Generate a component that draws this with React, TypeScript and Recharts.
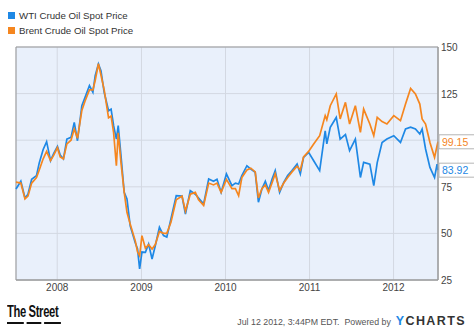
import React from "react";
import {
  LineChart,
  Line,
  XAxis,
  YAxis,
  CartesianGrid,
  ReferenceArea,
} from "recharts";

const dates = [
  "2007-07-06", "2007-07-27", "2007-08-14", "2007-08-27", "2007-09-12", "2007-10-03", "2007-10-15", "2007-11-01", "2007-11-16", "2007-12-03",
  "2007-12-17", "2008-01-02", "2008-01-14", "2008-01-28", "2008-02-12", "2008-03-01", "2008-03-15", "2008-03-29", "2008-04-17", "2008-05-01",
  "2008-05-20", "2008-06-04", "2008-06-14", "2008-06-28", "2008-07-09", "2008-07-23", "2008-08-11", "2008-08-22", "2008-09-02", "2008-09-14",
  "2008-09-22", "2008-10-04", "2008-10-18", "2008-10-30", "2008-11-13", "2008-12-05", "2008-12-15", "2008-12-24", "2009-01-03", "2009-01-18",
  "2009-02-01", "2009-02-16", "2009-03-02", "2009-03-20", "2009-04-07", "2009-04-21", "2009-05-09", "2009-06-01", "2009-06-26", "2009-07-11",
  "2009-08-01", "2009-08-23", "2009-09-06", "2009-09-28", "2009-10-20", "2009-11-10", "2009-11-25", "2009-12-13", "2010-01-05", "2010-01-29",
  "2010-02-13", "2010-02-27", "2010-03-13", "2010-04-04", "2010-04-21", "2010-05-10", "2010-05-24", "2010-06-08", "2010-06-23", "2010-07-07",
  "2010-07-22", "2010-08-05", "2010-08-24", "2010-09-11", "2010-09-28", "2010-10-17", "2010-11-08", "2010-11-22", "2010-12-06", "2010-12-28",
  "2011-01-19", "2011-02-14", "2011-03-10", "2011-03-17", "2011-04-01", "2011-04-27", "2011-05-14", "2011-06-06", "2011-06-24", "2011-07-19",
  "2011-08-10", "2011-08-24", "2011-09-20", "2011-10-07", "2011-10-22", "2011-11-12", "2011-12-03", "2012-01-02", "2012-01-31", "2012-02-22",
  "2012-03-15", "2012-04-05", "2012-04-24", "2012-05-04", "2012-05-19", "2012-06-07", "2012-06-27", "2012-07-08", "2012-07-12",
];

const wti = [
  73.8, 78, 69, 71, 79, 81, 87.8, 95, 99.2, 89,
  93, 96.7, 92, 90, 100.6, 101.5, 109.6, 99.7, 118.5, 123,
  129.3, 125.7, 134.6, 140.9, 137.3, 125.7, 115.8, 116.7, 107.8, 100.6,
  107.8, 91.7, 72, 68.5, 54, 45, 41.6, 30.9, 40, 39.8,
  44.3, 36.3, 43.4, 53.3, 48.8, 48, 57.7, 70.2, 70, 60.4,
  72.9, 71, 69, 65.8, 79.2, 78, 79, 72, 81.9, 75.6,
  77, 76.5, 81, 86.3, 84.5, 82.8, 66.7, 73.8, 78, 73,
  79, 83.7, 72, 77.4, 81, 83.7, 87.2, 81.9, 90.8, 93.5,
  89, 83.7, 105, 98, 106.9, 112.2, 100.6, 103, 94.4, 100.6,
  80, 88.1, 87.2, 75.6, 88, 98.8, 100.6, 102.4, 98.8, 106,
  107, 106, 103.3, 106, 95.3, 85.4, 80, 87.2, 83.92,
];

const brent = [
  77.5, 77, 68.5, 70, 77, 80, 84, 90, 94, 89,
  92, 96, 91, 90, 98, 100, 106, 101, 116, 121,
  127, 127, 132, 141, 135, 127, 112, 113, 104, 86.3,
  104, 88, 72, 61.3, 55, 46, 40, 38, 48.8, 42,
  44, 41.6, 44, 51, 50, 50, 56, 68, 70, 62,
  71, 72, 68, 65, 77, 76, 77, 72, 79, 74,
  74, 70.2, 80, 84, 85, 83, 69, 74, 76, 72,
  77, 82, 73, 77, 80, 83, 86, 84, 91, 94,
  98, 102.4, 113.2, 111, 118.5, 124.8, 111.4, 120.3, 108.7, 118.5,
  104.2, 116.7, 108.7, 102.4, 112.2, 110, 108.7, 113.2, 110.5, 119.4,
  127.8, 124.8, 119.4, 111.4, 108.7, 98.8, 90.8, 97, 99.15,
];

const yearTicks = ["2008-01-01", "2009-01-01", "2010-01-01", "2011-01-01", "2012-01-01"];
const priceTicks = [25, 50, 75, 100, 125, 150];
// 100 sits under the Brent end label in the original, so its text is not shown
const hiddenPriceLabels = [100];

const WTI_COLOR = "#1e88e5";
const BRENT_COLOR = "#f5861f";
const FONT = "'Liberation Sans', Arial, sans-serif";

const toTime = (d: string) => Date.parse(d + "T00:00:00Z");

const data = dates.map((d, i) => ({
  time: toTime(d),
  wti: wti[i],
  brent: brent[i],
}));

const xStart = data[0].time;
const xEnd = data[data.length - 1].time;

function endLabel(color: string) {
  return (props: any) => {
    const { x, y, index, value } = props;
    if (index !== data.length - 1) return null;
    return (
      <g>
        <rect
          x={x + 1}
          y={y - 7}
          width={40}
          height={14}
          fill="#fff"
          stroke="#b5b5b5"
          strokeWidth={1}
        />
        <text x={x + 4} y={y + 4} fill={color} fontSize={10.5} fontFamily={FONT}>
          {Number(value).toFixed(2)}
        </text>
      </g>
    );
  };
}

function PriceTick(props: any) {
  const { x, y, payload } = props;
  if (hiddenPriceLabels.includes(payload.value)) return null;
  return (
    <text x={x} y={y + 4} fill="#444" fontSize={10} fontFamily={FONT}>
      {payload.value}
    </text>
  );
}

function LegendItem({ color, label, top }: { color: string; label: string; top: number }) {
  return (
    <div
      style={{
        position: "absolute",
        left: 8,
        top,
        display: "flex",
        alignItems: "center",
        fontSize: 9.7,
        color: "#333",
        fontFamily: FONT,
      }}
    >
      <span style={{ width: 7, height: 7, background: color, marginRight: 4 }} />
      {label}
    </div>
  );
}

export default function App() {
  return (
    <div
      style={{
        position: "absolute",
        left: 0,
        top: 0,
        width: 474,
        height: 333,
        background: "#fff",
        overflow: "hidden",
      }}
    >
      <LegendItem color={WTI_COLOR} label="WTI Crude Oil Spot Price" top={10} />
      <LegendItem color={BRENT_COLOR} label="Brent Crude Oil Spot Price" top={25} />

      <LineChart
        width={474}
        height={333}
        data={data}
        margin={{ top: 47, right: 0, bottom: 0, left: 16 }}
      >
        <CartesianGrid fill="#e9f0fb" stroke="#d3d8e2" strokeWidth={1} />
        <XAxis
          dataKey="time"
          type="number"
          scale="time"
          domain={[xStart, xEnd]}
          ticks={yearTicks.map(toTime)}
          tickFormatter={(t) => String(new Date(t).getUTCFullYear())}
          height={53}
          tickLine={false}
          tickSize={0}
          tickMargin={4}
          axisLine={{ stroke: "#9a9a9a" }}
          tick={{ fontSize: 10, fill: "#444", fontFamily: FONT }}
        />
        <YAxis
          orientation="right"
          width={36}
          domain={[25, 150]}
          ticks={priceTicks}
          tickLine={false}
          tickSize={0}
          tickMargin={3}
          axisLine={{ stroke: "#9a9a9a" }}
          tick={<PriceTick />}
        />
        <ReferenceArea
          x1={xStart}
          x2={xEnd}
          y1={25}
          y2={150}
          fill="none"
          stroke="#9a9a9a"
          strokeWidth={1}
        />
        <Line
          type="linear"
          dataKey="wti"
          stroke={WTI_COLOR}
          strokeWidth={1.7}
          dot={false}
          isAnimationActive={false}
          label={endLabel(WTI_COLOR)}
        />
        <Line
          type="linear"
          dataKey="brent"
          stroke={BRENT_COLOR}
          strokeWidth={1.7}
          dot={false}
          isAnimationActive={false}
          label={endLabel(BRENT_COLOR)}
        />
      </LineChart>

      <div
        style={{
          position: "absolute",
          left: 7,
          top: 303,
          fontFamily: FONT,
          fontWeight: "bold",
          fontSize: 16,
          color: "#111",
          letterSpacing: -0.5,
          transform: "scaleX(0.7)",
          transformOrigin: "left top",
        }}
      >
        The Street
        <div style={{ display: "flex", gap: 4, marginTop: 1 }}>
          <span style={{ width: 24, height: 2, background: "#111" }} />
          <span style={{ width: 21, height: 2, background: "#111" }} />
          <span style={{ width: 24, height: 2, background: "#111" }} />
        </div>
      </div>

      <div
        style={{
          position: "absolute",
          right: 8,
          top: 314,
          display: "flex",
          alignItems: "baseline",
          fontFamily: FONT,
          color: "#555",
          fontSize: 8.8,
        }}
      >
        <span>Jul 12 2012, 3:44PM EDT.&nbsp; Powered by&nbsp;&nbsp;</span>
        <span style={{ fontSize: 12.5, fontWeight: "bold", letterSpacing: 1.4, color: "#333" }}>
          <span style={{ color: "#1e88e5" }}>Y</span>CHARTS
        </span>
      </div>
    </div>
  );
}
